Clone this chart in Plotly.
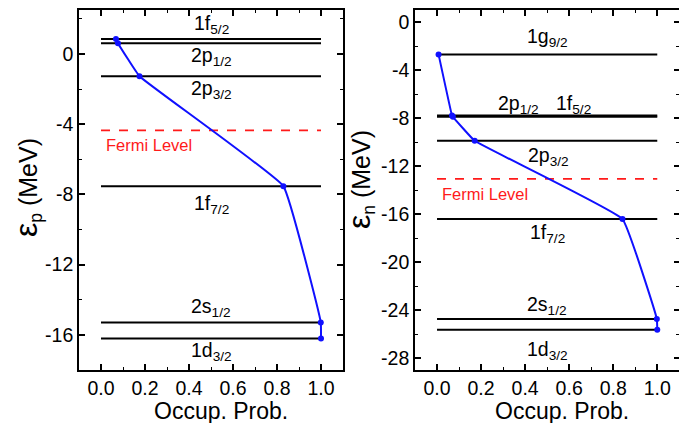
import plotly.graph_objects as go

# ---------------- data ----------------
# Proton (left panel)
p_labels = ["1f<sub>5/2</sub>", "2p<sub>1/2</sub>", "2p<sub>3/2</sub>", "1f<sub>7/2</sub>", "2s<sub>1/2</sub>", "1d<sub>3/2</sub>"]
p_energy = [0.85, 0.61, -1.27, -7.53, -15.3, -16.21]
p_occup = [0.068, 0.077, 0.175, 0.829, 0.999, 1.0]
p_fermi = -4.36
p_label_x = [0.5, 0.5, 0.5, 0.5, 0.5, 0.5]
p_label_y = [1.7, -0.15, -2.05, -8.6, -14.45, -16.97]

# Neutron (right panel)
n_labels = ["1g<sub>9/2</sub>", "2p<sub>1/2</sub>", "1f<sub>5/2</sub>", "2p<sub>3/2</sub>", "1f<sub>7/2</sub>", "2s<sub>1/2</sub>", "1d<sub>3/2</sub>"]
n_energy = [-2.70, -7.80, -7.90, -9.90, -16.42, -24.75, -25.64]
n_occup = [0.007, 0.068, 0.072, 0.171, 0.842, 0.998, 1.0]
n_fermi = -13.08
n_label_x = [0.5, 0.37, 0.62, 0.506, 0.5, 0.5, 0.5]
n_label_y = [-1.28, -6.87, -6.87, -11.2, -17.64, -23.65, -27.4]

x_tickvals = [0.0, 0.2, 0.4, 0.6, 0.8, 1.0]
x_ticktext = ["0.0", "0.2", "0.4", "0.6", "0.8", "1.0"]
p_yticks = [0, -4, -8, -12, -16]
n_yticks = [0, -4, -8, -12, -16, -20, -24, -28]

FONT = "Liberation Sans, Arial, sans-serif"
# the page body has an 8px margin; figure is sized/offset to match page pixels
OFF = 8
W, H = 687 - OFF, 423 - OFF


def px(x):
    return (x - OFF) / W


def py(y):
    return 1 - (y - OFF) / H


fig = go.Figure()


def add_panel(xa, ya, energies, occup, fermi, labels, lx, ly):
    for e in energies:
        fig.add_trace(go.Scatter(x=[0, 1], y=[e, e], mode="lines",
                                 line=dict(color="black", width=2),
                                 xaxis=xa, yaxis=ya, showlegend=False, hoverinfo="skip"))
    fig.add_trace(go.Scatter(x=[0, 1], y=[fermi, fermi], mode="lines",
                             line=dict(color="#ff1a1a", width=1.8, dash="dash"),
                             xaxis=xa, yaxis=ya, showlegend=False, hoverinfo="skip"))
    fig.add_trace(go.Scatter(x=occup, y=energies, mode="lines+markers",
                             line=dict(color="#1010ff", width=2, shape="spline", smoothing=0.25),
                             marker=dict(color="#1010ff", size=6),
                             xaxis=xa, yaxis=ya, showlegend=False))
    for t, x, y in zip(labels, lx, ly):
        fig.add_annotation(x=x, y=y, xref=xa, yref=ya, text=t, showarrow=False,
                           font=dict(size=19.5, color="black", family=FONT),
                           xanchor="center", yanchor="middle")
    fig.add_annotation(x=0.012, y=fermi, xref=xa, yref=ya, text="Fermi Level",
                       showarrow=False, font=dict(size=16.5, color="#ff1a1a", family=FONT),
                       xanchor="left", yanchor="top", yshift=-4)


add_panel("x", "y", p_energy, p_occup, p_fermi, p_labels, p_label_x, p_label_y)
add_panel("x2", "y2", n_energy, n_occup, n_fermi, n_labels, n_label_x, n_label_y)

axis_common = dict(showline=True, linecolor="black", linewidth=1.6, mirror="ticks",
                   ticks="inside", ticklen=6, tickwidth=1.5, tickcolor="black",
                   showgrid=False, zeroline=False,
                   tickfont=dict(size=19.5, color="black", family=FONT))
minor_common = dict(ticks="inside", ticklen=3.5, tickwidth=1.2, tickcolor="black")

ydom = [py(370), py(10)]
fig.update_layout(
    width=W, height=H, margin=dict(l=0, r=0, t=0, b=0),
    plot_bgcolor="white", paper_bgcolor="white", showlegend=False,
    xaxis=dict(domain=[px(79), px(343)], range=[-0.1, 1.1], tickvals=x_tickvals, ticktext=x_ticktext,
               minor=dict(dtick=0.1, **minor_common), anchor="y", **axis_common),
    yaxis=dict(domain=ydom, range=[-18, 2.5], tickvals=p_yticks, ticktext=[str(v) for v in p_yticks],
               minor=dict(tickvals=[2, -2, -6, -10, -14, -18], **minor_common), anchor="x", **axis_common),
    xaxis2=dict(domain=[px(415), px(679.3)], range=[-0.1, 1.1], tickvals=x_tickvals, ticktext=x_ticktext,
                minor=dict(dtick=0.1, **minor_common), anchor="y2", **axis_common),
    yaxis2=dict(domain=ydom, range=[-29, 1], tickvals=n_yticks, ticktext=[str(v) for v in n_yticks],
                minor=dict(tickvals=[-2, -6, -10, -14, -18, -22, -26], **minor_common), anchor="x2", **axis_common),
)

# axis titles
for xc in (221, 562):
    fig.add_annotation(x=px(xc), y=py(411), xref="paper", yref="paper", text="Occup. Prob.",
                       showarrow=False, font=dict(size=23, color="black", family=FONT),
                       xanchor="center", yanchor="middle")
eps = "<span style='font-size:32px'>ε</span>"
fig.add_annotation(x=px(27), y=py(188), xref="paper", yref="paper", text=eps + "<sub>p</sub> (MeV)",
                   textangle=-90, showarrow=False, font=dict(size=25, color="black", family=FONT),
                   xanchor="center", yanchor="middle")
fig.add_annotation(x=px(360), y=py(180), xref="paper", yref="paper", text=eps + "<sub>n</sub> (MeV)",
                   textangle=-90, showarrow=False, font=dict(size=25, color="black", family=FONT),
                   xanchor="center", yanchor="middle")

fig.write_html("out.html")
